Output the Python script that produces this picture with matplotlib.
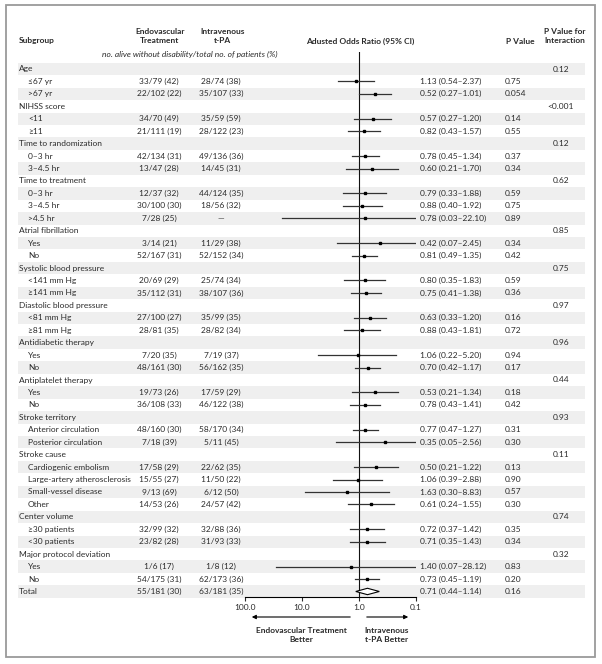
import matplotlib
matplotlib.use("Agg")
import matplotlib.pyplot as plt
from matplotlib.patches import Rectangle, Polygon

# rows of the forest plot, top to bottom (None = group header row)
labels = [
    "Age", "≤67 yr", ">67 yr",
    "NIHSS score", "<11", "≥11",
    "Time to randomization", "0–3 hr", "3–4.5 hr",
    "Time to treatment", "0–3 hr", "3–4.5 hr", ">4.5 hr",
    "Atrial fibrillation", "Yes", "No",
    "Systolic blood pressure", "<141 mm Hg", "≥141 mm Hg",
    "Diastolic blood pressure", "<81 mm Hg", "≥81 mm Hg",
    "Antidiabetic therapy", "Yes", "No",
    "Antiplatelet therapy", "Yes", "No",
    "Stroke territory", "Anterior circulation", "Posterior circulation",
    "Stroke cause", "Cardiogenic embolism", "Large-artery atherosclerosis",
    "Small-vessel disease", "Other",
    "Center volume", "≥30 patients", "<30 patients",
    "Major protocol deviation", "Yes", "No",
    "Total",
]
is_group = [
    1, 0, 0,
    1, 0, 0,
    1, 0, 0,
    1, 0, 0, 0,
    1, 0, 0,
    1, 0, 0,
    1, 0, 0,
    1, 0, 0,
    1, 0, 0,
    1, 0, 0,
    1, 0, 0, 0, 0,
    1, 0, 0,
    1, 0, 0,
    1,
]
endo = [
    None, "33/79 (42)", "22/102 (22)",
    None, "34/70 (49)", "21/111 (19)",
    None, "42/134 (31)", "13/47 (28)",
    None, "12/37 (32)", "30/100 (30)", "7/28 (25)",
    None, "3/14 (21)", "52/167 (31)",
    None, "20/69 (29)", "35/112 (31)",
    None, "27/100 (27)", "28/81 (35)",
    None, "7/20 (35)", "48/161 (30)",
    None, "19/73 (26)", "36/108 (33)",
    None, "48/160 (30)", "7/18 (39)",
    None, "17/58 (29)", "15/55 (27)", "9/13 (69)", "14/53 (26)",
    None, "32/99 (32)", "23/82 (28)",
    None, "1/6 (17)", "54/175 (31)",
    "55/181 (30)",
]
iv = [
    None, "28/74 (38)", "35/107 (33)",
    None, "35/59 (59)", "28/122 (23)",
    None, "49/136 (36)", "14/45 (31)",
    None, "44/124 (35)", "18/56 (32)", "—",
    None, "11/29 (38)", "52/152 (34)",
    None, "25/74 (34)", "38/107 (36)",
    None, "35/99 (35)", "28/82 (34)",
    None, "7/19 (37)", "56/162 (35)",
    None, "17/59 (29)", "46/122 (38)",
    None, "58/170 (34)", "5/11 (45)",
    None, "22/62 (35)", "11/50 (22)", "6/12 (50)", "24/57 (42)",
    None, "32/88 (36)", "31/93 (33)",
    None, "1/8 (12)", "62/173 (36)",
    "63/181 (35)",
]
odds = [
    None, 1.13, 0.52,
    None, 0.57, 0.82,
    None, 0.78, 0.60,
    None, 0.79, 0.88, 0.78,
    None, 0.42, 0.81,
    None, 0.80, 0.75,
    None, 0.63, 0.88,
    None, 1.06, 0.70,
    None, 0.53, 0.78,
    None, 0.77, 0.35,
    None, 0.50, 1.06, 1.63, 0.61,
    None, 0.72, 0.71,
    None, 1.40, 0.73,
    0.71,
]
ci_low = [
    None, 0.54, 0.27,
    None, 0.27, 0.43,
    None, 0.45, 0.21,
    None, 0.33, 0.40, 0.03,
    None, 0.07, 0.49,
    None, 0.35, 0.41,
    None, 0.33, 0.43,
    None, 0.22, 0.42,
    None, 0.21, 0.43,
    None, 0.47, 0.05,
    None, 0.21, 0.39, 0.30, 0.24,
    None, 0.37, 0.35,
    None, 0.07, 0.45,
    0.44,
]
ci_high = [
    None, 2.37, 1.01,
    None, 1.20, 1.57,
    None, 1.34, 1.70,
    None, 1.88, 1.92, 22.10,
    None, 2.45, 1.35,
    None, 1.83, 1.38,
    None, 1.20, 1.81,
    None, 5.20, 1.17,
    None, 1.34, 1.41,
    None, 1.27, 2.56,
    None, 1.22, 2.88, 8.83, 1.55,
    None, 1.42, 1.43,
    None, 28.12, 1.19,
    1.14,
]
p_value = [
    None, "0.75", "0.054",
    None, "0.14", "0.55",
    None, "0.37", "0.34",
    None, "0.59", "0.75", "0.89",
    None, "0.34", "0.42",
    None, "0.59", "0.36",
    None, "0.16", "0.72",
    None, "0.94", "0.17",
    None, "0.18", "0.42",
    None, "0.31", "0.30",
    None, "0.13", "0.90", "0.57", "0.30",
    None, "0.35", "0.34",
    None, "0.83", "0.20",
    "0.16",
]
p_interaction = [
    "0.12", None, None,
    "<0.001", None, None,
    "0.12", None, None,
    "0.62", None, None, None,
    "0.85", None, None,
    "0.75", None, None,
    "0.97", None, None,
    "0.96", None, None,
    "0.44", None, None,
    "0.93", None, None,
    "0.11", None, None, None, None,
    "0.74", None, None,
    "0.32", None, None,
    None,
]
tick_values = [100, 10, 1, 0.1]
tick_labels = ["100.0", "10.0", "1.0", "0.1"]

plt.rcParams["font.family"] = ["Lato", "DejaVu Sans"]
W, H = 602, 664
fs = 6.0
txt = "#2a2a2a"

fig = plt.figure(figsize=(W / 100, H / 100), dpi=100)

# background axes in pixel units for the table part
bg = fig.add_axes([0, 0, 1, 1])
bg.set_xlim(0, W)
bg.set_ylim(H, 0)
bg.axis("off")

bg.add_patch(Rectangle((6, 5), 589, 652, fill=False, edgecolor="#9a9a9a", lw=1.3))

y0, dy = 69.0, 12.44
rows_y = [y0 + i * dy for i in range(len(labels))]

for i, y in enumerate(rows_y):
    if i % 2 == 0:
        bg.add_patch(Rectangle((18, y - dy / 2), 567, dy, color="#efefef", lw=0, zorder=0))
    x_lab = 19 if is_group[i] else 28
    bg.text(x_lab, y, labels[i], fontsize=fs, va="center", ha="left", color=txt)
    if endo[i]:
        bg.text(159, y, endo[i], fontsize=fs, va="center", ha="center", color=txt)
    if iv[i]:
        bg.text(221, y, iv[i], fontsize=fs, va="center", ha="center", color=txt)
    if odds[i] is not None:
        bg.text(420, y, f"{odds[i]:.2f} ({ci_low[i]:.2f}–{ci_high[i]:.2f})",
                fontsize=fs, va="center", ha="left", color=txt)
    if p_value[i]:
        bg.text(505, y, p_value[i], fontsize=fs, va="center", ha="left", color=txt)
    if p_interaction[i]:
        bg.text(561, y, p_interaction[i], fontsize=fs, va="center", ha="center", color=txt)

# column headers
bg.text(19, 41, "Subgroup", fontsize=fs, fontweight="bold", va="center", ha="left", color=txt)
bg.text(160, 36, "Endovascular\nTreatment", fontsize=fs, fontweight="bold",
        va="center", ha="center", color=txt, linespacing=1.25)
bg.text(223, 36, "Intravenous\nt-PA", fontsize=fs, fontweight="bold",
        va="center", ha="center", color=txt, linespacing=1.25)
bg.text(360, 41, "Adusted Odds Ratio (95% CI)", fontsize=fs, fontweight="bold",
        va="center", ha="center", color=txt)
bg.text(520, 41, "P Value", fontsize=fs, fontweight="bold", va="center", ha="center", color=txt)
bg.text(565, 36, "P Value for\nInteraction", fontsize=fs, fontweight="bold",
        va="center", ha="center", color=txt, linespacing=1.25)
bg.text(190, 54, "no. alive without disability/total no. of patients (%)", fontsize=fs,
        style="italic", va="center", ha="center", color=txt)

# forest plot axes: log odds ratio, reversed
left_px, right_px, top_px, bot_px = 245, 416, 52, 597
ax = fig.add_axes([left_px / W, 1 - bot_px / H, (right_px - left_px) / W, (bot_px - top_px) / H])
ax.set_facecolor("none")
ax.set_xscale("log")
ax.set_xlim(100, 0.1)
ax.set_ylim(bot_px, top_px)
for s in ["top", "left", "right"]:
    ax.spines[s].set_visible(False)
ax.spines["bottom"].set_linewidth(0.8)
ax.set_yticks([])
ax.set_xticks(tick_values)
ax.set_xticklabels(tick_labels)
ax.minorticks_off()
ax.tick_params(axis="x", direction="out", length=3, width=0.8, labelsize=fs, pad=2, colors=txt)
ax.axvline(1, color="#111111", lw=0.8, zorder=1)

last = len(labels) - 1
for i, y in enumerate(rows_y):
    if odds[i] is None:
        continue
    if i == last:
        dia = Polygon([(ci_low[i], y), (odds[i], y - 3.2), (ci_high[i], y), (odds[i], y + 3.2)],
                      closed=True, facecolor="white", edgecolor="black", lw=0.8, zorder=3)
        ax.add_patch(dia)
    else:
        ax.plot([ci_low[i], ci_high[i]], [y, y], color="#333333", lw=0.9, zorder=2)
        ax.plot(odds[i], y, marker="s", ms=1.8, color="black", zorder=3)

# direction arrows and labels
bg.annotate("", xy=(249, 617), xytext=(353, 617),
            arrowprops=dict(arrowstyle="-|>", lw=0.8, color="black", mutation_scale=6))
bg.annotate("", xy=(411, 617), xytext=(364, 617),
            arrowprops=dict(arrowstyle="-|>", lw=0.8, color="black", mutation_scale=6))
bg.text(301, 635, "Endovascular Treatment\nBetter", fontsize=fs, fontweight="bold",
        va="center", ha="center", color=txt, linespacing=1.25)
bg.text(387, 635, "Intravenous\nt-PA Better", fontsize=fs, fontweight="bold",
        va="center", ha="center", color=txt, linespacing=1.25)

fig.savefig("out.png", dpi=100)
